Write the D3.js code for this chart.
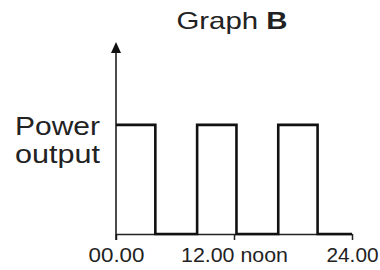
<!DOCTYPE html>
<html>
<head>
<meta charset="utf-8">
<script src="https://cdn.jsdelivr.net/npm/d3@7/dist/d3.min.js"></script>
<style>
  html, body { margin: 0; padding: 0; background: #fff; }
  svg { display: block; }
  text { font-family: "Liberation Sans", Arial, sans-serif; fill: #222; }
</style>
</head>
<body>
<script>
// ---- data ----
const stepTimes = [0, 4, 8.25, 12.25, 16.5, 20.5, 24];   // hours where output changes
const stepLevels = [1, 0, 1, 0, 1, 0, 0];                 // power level from that time on
const tickValues = [0, 12, 24];
const tickLabels = ["00.00", "12.00 noon", "24.00"];
const titleParts = ["Graph ", "B"];
const yLabelLines = ["Power", "output"];

const W = 380, H = 270;
const svg = d3.select("body").append("svg").attr("width", W).attr("height", H);

const x = d3.scaleLinear().domain([0, 24]).range([116, 352]);
const y = d3.scaleLinear().domain([0, 1.76]).range([234, 42]);

// x axis
const xAxis = d3.axisBottom(x)
  .tickValues(tickValues)
  .tickSize(6).tickSizeOuter(0)
  .tickFormat((d, i) => tickLabels[i]);
const gx = svg.append("g").attr("transform", `translate(0,${y(0)})`).call(xAxis);
gx.select(".domain").attr("stroke", "#222").attr("stroke-width", 1.5);
gx.selectAll(".tick line").attr("stroke", "#222").attr("stroke-width", 1.5);
gx.selectAll(".tick text")
  .attr("y", 28).attr("dy", 0)
  .style("font-size", "20px")
  .style("font-family", "'Liberation Sans', Arial, sans-serif")
  .attr("fill", "#333")
  .attr("textLength", (d, i) => [56, 107, 52][i])
  .attr("lengthAdjust", "spacingAndGlyphs");

// y axis with arrow
const axX = x(0), axTop = y(1.76);
svg.append("line")
  .attr("x1", axX).attr("x2", axX)
  .attr("y1", y(0) + 6).attr("y2", axTop + 8)
  .attr("stroke", "#111").attr("stroke-width", 1.5);
svg.append("path")
  .attr("d", `M${axX},${axTop} L${axX + 5},${axTop + 11} L${axX - 5},${axTop + 11} Z`)
  .attr("fill", "#111");

// power output step line
const pts = stepTimes.map((t, i) => [t, stepLevels[i]]);
svg.append("path")
  .datum(pts)
  .attr("fill", "none")
  .attr("stroke", "#111")
  .attr("stroke-width", 2.6)
  .attr("stroke-linejoin", "miter")
  .attr("d", d3.line().x(d => x(d[0])).y(d => y(d[1])).curve(d3.curveStepAfter));

// title
const title = svg.append("text")
  .attr("x", 232).attr("y", 29)
  .attr("text-anchor", "middle")
  .style("font-size", "24px")
  .attr("textLength", 111).attr("lengthAdjust", "spacingAndGlyphs");
title.append("tspan").text(titleParts[0]);
title.append("tspan").style("font-weight", "bold").text(titleParts[1]);

// y label
svg.selectAll("text.ylab").data(yLabelLines).enter().append("text")
  .attr("class", "ylab")
  .attr("x", 15)
  .attr("y", (d, i) => 135 + i * 28)
  .style("font-size", "25px")
  .attr("textLength", 85).attr("lengthAdjust", "spacingAndGlyphs")
  .text(d => d);
</script>
</body>
</html>
